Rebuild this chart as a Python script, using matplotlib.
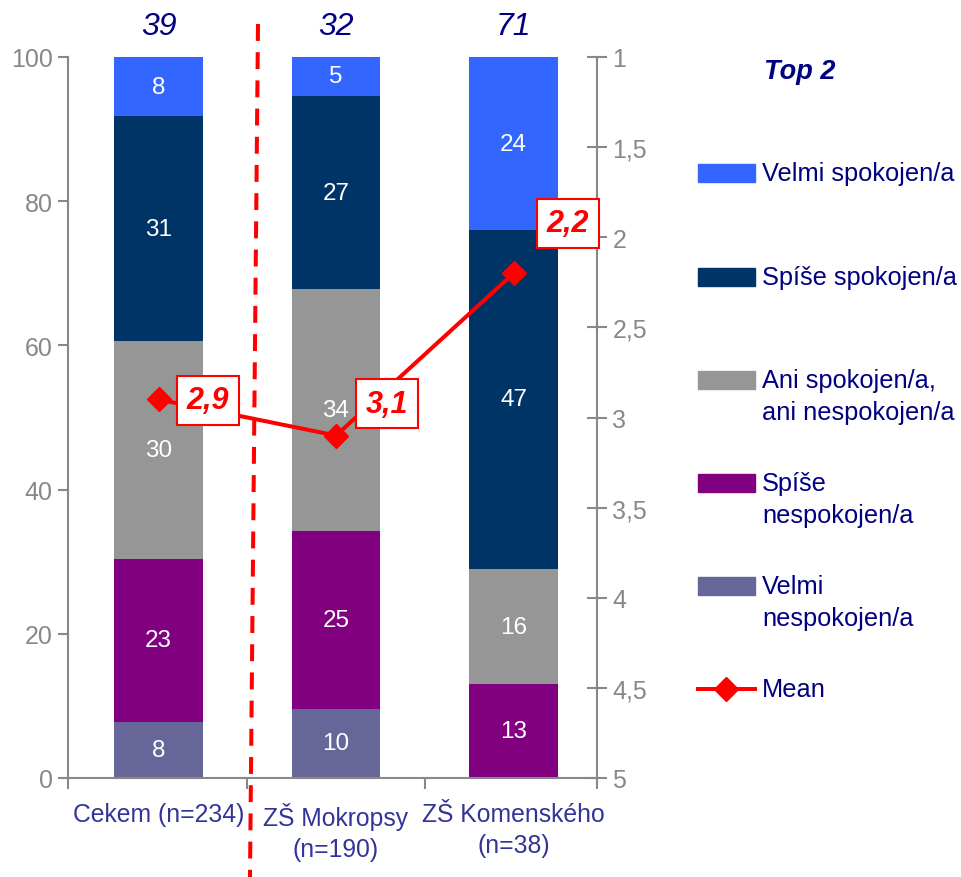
import numpy as np
import matplotlib
matplotlib.use("Agg")
import matplotlib.pyplot as plt
from matplotlib.patches import Rectangle
from matplotlib.lines import Line2D

plt.rcParams['font.family'] = ['Liberation Sans', 'DejaVu Sans']

# data
categories = ["Cekem (n=234)", "ZŠ Mokropsy\n(n=190)", "ZŠ Komenského\n(n=38)"]
series_names = ["Velmi nespokojen/a", "Spíše nespokojen/a",
                "Ani spokojen/a,\nani nespokojen/a", "Spíše spokojen/a", "Velmi spokojen/a"]
velmi_nesp = [7.8, 9.6, 0]
spise_nesp = [22.6, 24.6, 13]
ani = [30.2, 33.6, 16]
spise_spok = [31.2, 26.8, 47]
velmi_spok = [8.2, 5.4, 24]
top2 = [39, 32, 71]
mean = [2.9, 3.1, 2.2]
mean_labels = ["2,9", "3,1", "2,2"]
right_ticks = [1, 1.5, 2, 2.5, 3, 3.5, 4, 4.5, 5]

series = [velmi_nesp, spise_nesp, ani, spise_spok, velmi_spok]
colors = ["#666699", "#800080", "#969696", "#003366", "#3366FF"]

navy = "#000080"
grey = "#888888"

W, H = 962, 878
fig = plt.figure(figsize=(W / 100, H / 100), dpi=100)
ax = fig.add_axes([68 / W, 1 - 779 / H, (597 - 68) / W, (779 - 58) / H])

x = np.arange(len(categories))
bottom = np.zeros(len(categories))
for vals, c in zip(series, colors):
    vals = np.array(vals, dtype=float)
    ax.bar(x, vals, 0.5, bottom=bottom, color=c, zorder=2)
    for xi, v, b in zip(x, vals, bottom):
        if v > 0:
            ax.text(xi, b + v / 2, f"{v:.0f}", ha="center", va="center",
                    color="white", fontsize=17.5, zorder=3)
    bottom += vals

x0, x1 = -0.51, 2.47
ax.set_xlim(x0, x1)
ax.set_ylim(0, 100)
ax.set_yticks(range(0, 101, 20))
ax.set_xticks([x0, 0.5, 1.5, x1])
ax.set_xticklabels([])
ax.set_xticks(x, minor=True)
ax.set_xticklabels(categories, minor=True, color="#333399", fontsize=17.8,
                   linespacing=1.38)
ax.tick_params(axis="x", which="minor", length=0, pad=17)
ax.tick_params(axis="x", which="major", length=8, width=1.5, color=grey, direction="out")
ax.tick_params(axis="y", length=7, width=1.5, color=grey, labelcolor=grey,
               labelsize=18, pad=4)
for s in ["top", "right"]:
    ax.spines[s].set_visible(False)
for s in ["left", "bottom"]:
    ax.spines[s].set_color(grey)
    ax.spines[s].set_linewidth(1.5)

# top 2 numbers
for xi, t in zip(x, top2):
    ax.text(xi, 1.043, str(t), transform=ax.get_xaxis_transform(), ha="center",
            va="center", fontsize=23, style="italic", color=navy)

# right axis with mean
ax2 = ax.twinx()
ax2.set_ylim(5, 1)
ax2.set_yticks(right_ticks)
ax2.set_yticklabels([f"{t:g}".replace(".", ",") for t in right_ticks])
ax2.tick_params(axis="y", length=14, width=1.5, direction="inout", color=grey,
                labelcolor=grey, labelsize=18, pad=4)
for s in ["top", "left", "bottom"]:
    ax2.spines[s].set_visible(False)
ax2.spines["right"].set_color(grey)
ax2.spines["right"].set_linewidth(1.5)

ax2.plot(x, mean, color="red", lw=2.9, marker="D", markersize=12, zorder=4)
offsets = [(35.5, -0.7), (37, 23), (39, 36)]
for xi, m, lab, off in zip(x, mean, mean_labels, offsets):
    ax2.annotate(lab, (xi, m), xytext=off, textcoords="offset points",
                 ha="center", va="center", fontsize=22, color="red",
                 fontweight="bold", style="italic", zorder=5,
                 bbox=dict(boxstyle="square,pad=0.32", fc="white", ec="red", lw=1.5))

# dashed separator
sep = Line2D([258 / W, 250 / W], [1 - 25 / H, 0], transform=fig.transFigure,
             color="red", lw=2.9, dashes=(4.2, 2.8))
fig.add_artist(sep)

# legend
fig.text(800 / W, 1 - 72 / H, "Top 2", ha="center", va="center", fontsize=19.5,
         fontweight="bold", style="italic", color=navy)
leg_y = [174, 278, 381, 484, 587]
for name, c, yy in zip(series_names[::-1], colors[::-1], leg_y):
    fig.add_artist(Rectangle((698 / W, 1 - (yy + 9) / H), 57 / W, 18 / H,
                             transform=fig.transFigure, color=c))
    lines = {"Spíše nespokojen/a": ["Spíše", "nespokojen/a"],
             "Velmi nespokojen/a": ["Velmi", "nespokojen/a"]}.get(name, name.split("\n"))
    for i, ln in enumerate(lines):
        fig.text(762 / W, 1 - (yy + i * 32) / H, ln, ha="left", va="center",
                 fontsize=18.3, color=navy)
fig.add_artist(Line2D([698 / W, 755 / W], [1 - 690 / H] * 2, transform=fig.transFigure,
                      color="red", lw=2.9))
fig.add_artist(Line2D([726.5 / W], [1 - 690 / H], transform=fig.transFigure,
                      color="red", marker="D", markersize=12))
fig.text(762 / W, 1 - 690 / H, "Mean", ha="left", va="center", fontsize=18.3, color=navy)

fig.savefig("out.png", dpi=100)
